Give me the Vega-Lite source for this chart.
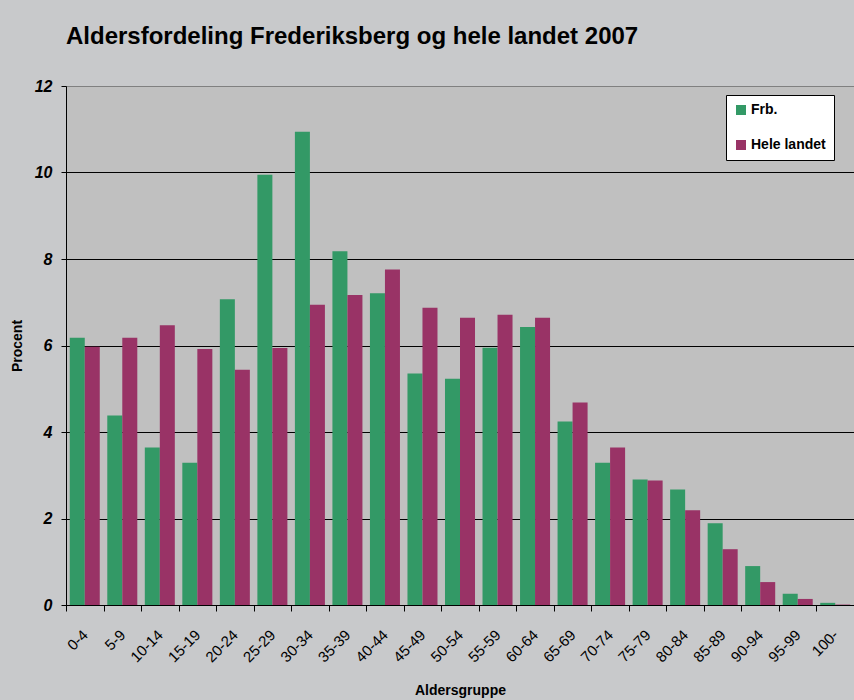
{
  "$schema": "https://vega.github.io/schema/vega-lite/v6.json",
  "autosize": {"type": "none"},
  "width": 788,
  "height": 519,
  "padding": {"left": 66, "top": 86, "right": 0, "bottom": 95},
  "background": "#c8c9cb",
  "title": {
    "text": "Aldersfordeling Frederiksberg og hele landet 2007",
    "anchor": "start",
    "frame": "group",
    "font": "Liberation Sans",
    "fontSize": 24,
    "fontWeight": "bold",
    "color": "#000000",
    "baseline": "alphabetic",
    "offset": 10
  },
  "data": {
    "values": [
      {"gruppe": "0-4", "serie": "Frb.", "pct": 6.18},
      {"gruppe": "0-4", "serie": "Hele landet", "pct": 5.97},
      {"gruppe": "5-9", "serie": "Frb.", "pct": 4.38},
      {"gruppe": "5-9", "serie": "Hele landet", "pct": 6.18},
      {"gruppe": "10-14", "serie": "Frb.", "pct": 3.64},
      {"gruppe": "10-14", "serie": "Hele landet", "pct": 6.47},
      {"gruppe": "15-19", "serie": "Frb.", "pct": 3.29},
      {"gruppe": "15-19", "serie": "Hele landet", "pct": 5.92},
      {"gruppe": "20-24", "serie": "Frb.", "pct": 7.07},
      {"gruppe": "20-24", "serie": "Hele landet", "pct": 5.44},
      {"gruppe": "25-29", "serie": "Frb.", "pct": 9.95},
      {"gruppe": "25-29", "serie": "Hele landet", "pct": 5.94},
      {"gruppe": "30-34", "serie": "Frb.", "pct": 10.94},
      {"gruppe": "30-34", "serie": "Hele landet", "pct": 6.94},
      {"gruppe": "35-39", "serie": "Frb.", "pct": 8.18},
      {"gruppe": "35-39", "serie": "Hele landet", "pct": 7.17},
      {"gruppe": "40-44", "serie": "Frb.", "pct": 7.21},
      {"gruppe": "40-44", "serie": "Hele landet", "pct": 7.76},
      {"gruppe": "45-49", "serie": "Frb.", "pct": 5.35},
      {"gruppe": "45-49", "serie": "Hele landet", "pct": 6.87},
      {"gruppe": "50-54", "serie": "Frb.", "pct": 5.23},
      {"gruppe": "50-54", "serie": "Hele landet", "pct": 6.64},
      {"gruppe": "55-59", "serie": "Frb.", "pct": 5.95},
      {"gruppe": "55-59", "serie": "Hele landet", "pct": 6.71},
      {"gruppe": "60-64", "serie": "Frb.", "pct": 6.43},
      {"gruppe": "60-64", "serie": "Hele landet", "pct": 6.64},
      {"gruppe": "65-69", "serie": "Frb.", "pct": 4.24},
      {"gruppe": "65-69", "serie": "Hele landet", "pct": 4.68},
      {"gruppe": "70-74", "serie": "Frb.", "pct": 3.29},
      {"gruppe": "70-74", "serie": "Hele landet", "pct": 3.64},
      {"gruppe": "75-79", "serie": "Frb.", "pct": 2.9},
      {"gruppe": "75-79", "serie": "Hele landet", "pct": 2.88},
      {"gruppe": "80-84", "serie": "Frb.", "pct": 2.67},
      {"gruppe": "80-84", "serie": "Hele landet", "pct": 2.19},
      {"gruppe": "85-89", "serie": "Frb.", "pct": 1.89},
      {"gruppe": "85-89", "serie": "Hele landet", "pct": 1.29},
      {"gruppe": "90-94", "serie": "Frb.", "pct": 0.9},
      {"gruppe": "90-94", "serie": "Hele landet", "pct": 0.53},
      {"gruppe": "95-99", "serie": "Frb.", "pct": 0.26},
      {"gruppe": "95-99", "serie": "Hele landet", "pct": 0.14},
      {"gruppe": "100-", "serie": "Frb.", "pct": 0.05},
      {"gruppe": "100-", "serie": "Hele landet", "pct": 0.01}
    ]
  },
  "mark": {"type": "bar"},
  "encoding": {
    "x": {
      "field": "gruppe",
      "type": "nominal",
      "sort": null,
      "scale": {"paddingInner": 0, "paddingOuter": 0},
      "axis": {
        "title": "Aldersgruppe",
        "titleFont": "Liberation Sans",
        "titleFontSize": 14,
        "titleFontWeight": "bold",
        "titleColor": "#000000",
        "titlePadding": 19,
        "labelAngle": -45,
        "labelAlign": "right",
        "labelBaseline": "middle",
        "labelFont": "Liberation Sans",
        "labelFontSize": 15,
        "labelColor": "#000000",
        "labelPadding": 21,
        "labelOverlap": false,
        "tickBand": "extent",
        "tickSize": 6,
        "tickColor": "#000000",
        "domainColor": "#000000",
        "grid": false
      }
    },
    "xOffset": {
      "field": "serie",
      "type": "nominal",
      "scale": {"paddingInner": 0, "paddingOuter": 0.25}
    },
    "y": {
      "field": "pct",
      "type": "quantitative",
      "scale": {"domain": [0, 12], "nice": false},
      "axis": {
        "title": "Procent",
        "titleFont": "Liberation Sans",
        "titleFontSize": 14,
        "titleFontWeight": "bold",
        "titleColor": "#000000",
        "titlePadding": 10,
        "values": [0, 2, 4, 6, 8, 10, 12],
        "labelFont": "Liberation Sans",
        "labelFontSize": 16,
        "labelFontWeight": "bold",
        "labelFontStyle": "italic",
        "labelColor": "#000000",
        "labelPadding": 9,
        "tickSize": 5,
        "tickColor": "#000000",
        "domainColor": "#000000",
        "grid": true,
        "gridColor": {"condition": {"test": "datum.value === 12", "value": "#808080"}, "value": "#000000"},
        "gridOpacity": 1,
        "gridWidth": 1
      }
    },
    "color": {
      "field": "serie",
      "type": "nominal",
      "scale": {"domain": ["Frb.", "Hele landet"], "range": ["#339966", "#993366"]},
      "legend": {
        "title": null,
        "orient": "none",
        "legendX": 660,
        "legendY": 9,
        "fillColor": "#ffffff",
        "strokeColor": "#000000",
        "padding": 8,
        "symbolType": "square",
        "symbolSize": 100,
        "symbolStrokeWidth": 0,
        "symbolOpacity": 1,
        "labelFont": "Liberation Sans",
        "labelFontSize": 14,
        "labelFontWeight": "bold",
        "labelColor": "#000000",
        "labelOffset": 3,
        "rowPadding": 21
      }
    }
  },
  "config": {
    "view": {"fill": "#c0c0c0", "stroke": "#808080", "strokeWidth": 1}
  }
}
